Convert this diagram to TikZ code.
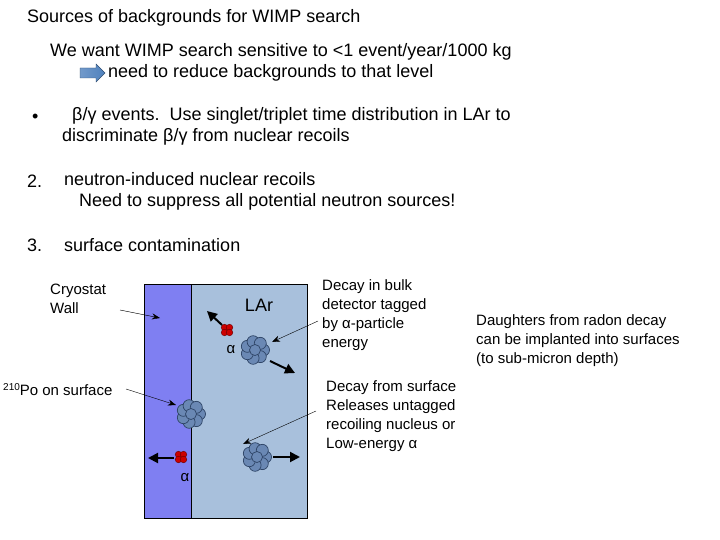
\documentclass[tikz,border=0pt]{standalone}
\usepackage{fontspec}
\setmainfont{Liberation Sans}
\usetikzlibrary{arrows.meta,calc}
\definecolor{wall}{HTML}{7F7FF2}
\definecolor{lar}{HTML}{A8C0DC}
\definecolor{nuc}{HTML}{6A88B4}
\definecolor{nucd}{HTML}{2E4466}
\definecolor{blu}{HTML}{4F81BD}
\tikzset{
 txt/.style={anchor=west,inner sep=0pt,font=\fontsize{18}{21}\selectfont,align=left},
 sm/.style={anchor=north west,inner sep=0pt,font=\fontsize{15}{19}\selectfont,align=left},
 ptr/.style={-{Stealth[length=8pt,width=6pt]},thin},
 bigarr/.style={-{Triangle[length=10pt,width=10pt]},line width=2pt},
}
\newcommand{\nucleus}[2]{%
 \foreach \a in {0,51.4,...,359}{\fill[nuc,draw=nucd,line width=0.7pt] ($(#1,#2)+(\a:8.5)$) circle (6);}
 \fill[nuc,draw=nucd,line width=0.7pt] (#1,#2) circle (5.5);}
\newcommand{\alphap}[2]{%
 \foreach \dx/\dy in {-2.5/-2.5,2.5/-2.5,-2.5/2.5,2.5/2.5}{\fill[red!80!black,draw=red!40!black,line width=0.4pt] (#1+\dx,#2+\dy) circle (3.3);}}
\begin{document}
\begin{tikzpicture}[x=1pt,y=-1pt]
\useasboundingbox (0,0) rectangle (720,540);
\node[txt] (t1) at (27,18) {Sources of backgrounds for WIMP search};
\node[txt] (t2) at (50,52) {We want WIMP search sensitive to <1 event/year/1000 kg};
\node[txt] (t3) at (108,73) {need to reduce backgrounds to that level};
\shade[left color=blu!80,right color=blu,draw=blu!60!black] (80,68)--(96,68)--(96,64)--(105,73)--(96,82)--(96,78)--(80,78)--cycle;
\node[txt] (b1) at (32,118) {•};
\node[txt] (b1t) at (62,126.5) {\ \ β/γ events.\ \ Use singlet/triplet time distribution in LAr to\\discriminate β/γ from nuclear recoils};
\node[txt] (b2) at (27,181) {2.};
\node[txt] (b2t) at (64,191.5) {neutron-induced nuclear recoils\\\ \ \ Need to suppress all potential neutron sources!};
\node[txt] (b3) at (27,245) {3.};
\node[txt] (b3t) at (64,245) {surface contamination};
% cryostat
\fill[lar] (144,284) rectangle (307,518);
\fill[wall] (144,284) rectangle (191,518);
\draw[line width=0.6pt] (191,284) -- (191,518);
\draw[line width=0.8pt] (144,284) rectangle (307,518);
\node[sm] (cw) at (50,284) {Cryostat\\Wall};
\node[anchor=center,inner sep=0pt,font=\fontsize{18}{21}\selectfont] (lar) at (259,305) {LAr};
\node[sm] (db) at (322,279) {Decay in bulk\\detector tagged\\by α-particle\\energy};
\node[sm] (dr) at (476,314) {Daughters from radon decay\\can be implanted into surfaces\\(to sub-micron depth)};
\node[anchor=west,inner sep=0pt,font=\fontsize{15}{18}\selectfont] (po) at (3,390) {\raisebox{5pt}{\fontsize{10}{12}\selectfont 210}Po on surface};
\node[sm] (ds) at (326,380) {Decay from surface\\Releases untagged\\recoiling nucleus or\\Low-energy α};
\node[inner sep=0pt,font=\fontsize{15}{18}\selectfont] (a1) at (231,350) {α};
\node[inner sep=0pt,font=\fontsize{15}{18}\selectfont] (a2) at (185,478) {α};
\nucleus{255}{350}
\nucleus{191}{414}
\nucleus{257}{457}
\alphap{227}{330}
\alphap{181}{457}
\coordinate (n1) at (272,342);
\coordinate (n2) at (176,405);
\coordinate (n3) at (243,444);
\coordinate (w) at (160,318);
\coordinate (cwp) at (120,310);
\draw[ptr] (cwp) -- (w);
\coordinate (dbp) at (318,321);
\draw[ptr] (dbp) -- (n1);
\coordinate (pop) at (126,389);
\draw[ptr] (pop) -- (n2);
\coordinate (dsp) at (316,411);
\draw[ptr] (dsp) -- (n3);
\coordinate (e1) at (207,311); \draw[bigarr] (222,325) -- (e1);
\coordinate (e2) at (295,373); \draw[bigarr] (270,361) -- (e2);
\coordinate (e3) at (148,458); \draw[bigarr] (174,458) -- (e3);
\coordinate (e4) at (300,457); \draw[bigarr] (273,457) -- (e4);
\end{tikzpicture}
\end{document}
